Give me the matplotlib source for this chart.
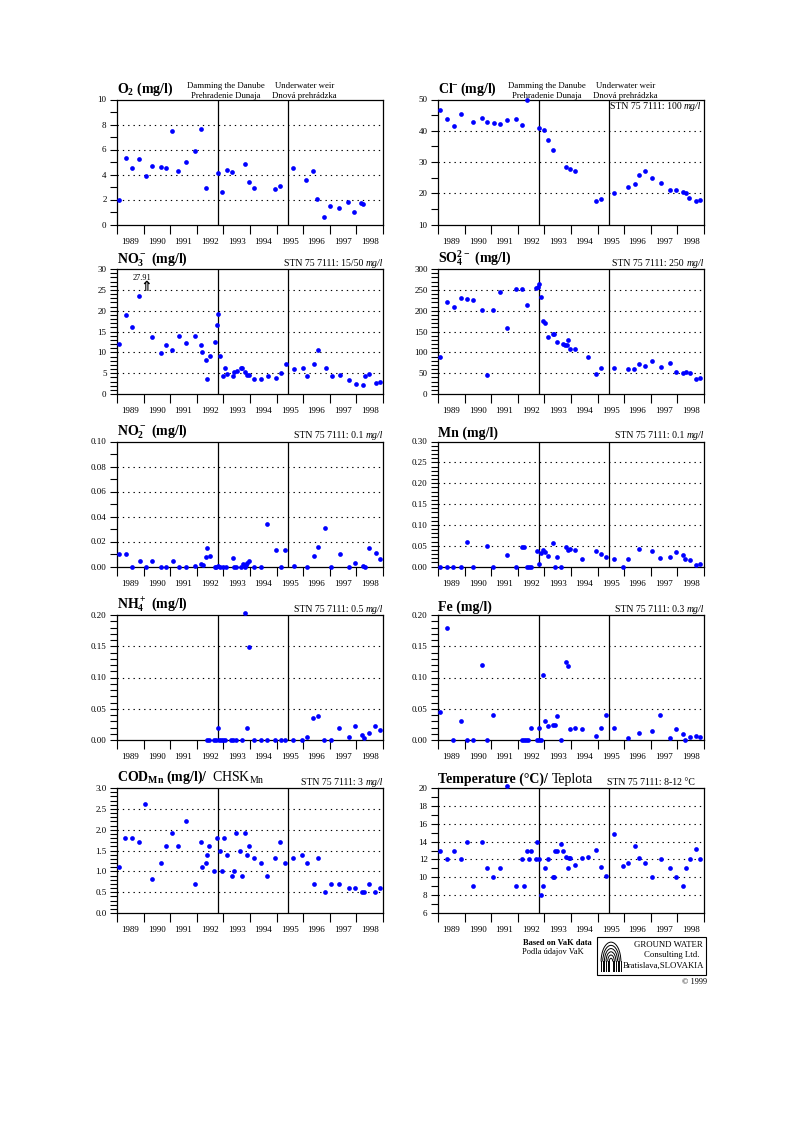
import matplotlib
matplotlib.use('Agg')
import matplotlib.pyplot as plt
import matplotlib.transforms as mtrans
import numpy as np
from matplotlib.ticker import MultipleLocator, FormatStrFormatter
from matplotlib.patches import Rectangle, Arc

plt.rcParams['font.family'] = ['Liberation Serif', 'DejaVu Serif']
plt.rcParams['mathtext.default'] = 'regular'

# ---------------- data ----------------
YEAR_LABELS = [str(y) for y in range(1989, 1999)]
DAMMING = 1992.8
WEIR = 1995.43

O2_X = [1989.08,1989.33,1989.58,1989.84,1990.08,1990.32,1990.65,1990.83,1991.06,1991.31,1991.59,1991.93,1992.15,1992.33,1992.78,1992.95,1993.12,1993.32,1993.81,1993.95,1994.14,1994.94,1995.13,1995.62,1996.10,1996.35,1996.50,1996.77,1997.02,1997.35,1997.70,1997.92,1998.17,1998.26]
O2_Y = [2.0,5.33,4.53,5.25,3.9,4.67,4.59,4.53,7.52,4.29,5.01,5.89,7.63,2.93,4.13,2.61,4.35,4.21,4.83,3.41,2.93,2.83,3.09,4.53,3.55,4.32,2.08,0.61,1.49,1.36,1.79,0.99,1.71,1.65]

CL_X = [1989.08,1989.34,1989.59,1989.85,1990.31,1990.66,1990.85,1991.09,1991.32,1991.60,1991.95,1992.17,1992.33,1992.79,1992.97,1993.13,1993.33,1993.82,1993.97,1994.15,1994.94,1995.14,1995.63,1996.14,1996.39,1996.54,1996.80,1997.05,1997.37,1997.72,1997.94,1998.21,1998.31,1998.45,1998.70,1998.85]
CL_Y = [46.5,43.8,41.6,45.5,42.7,44.0,42.9,42.5,42.2,43.5,43.8,42.0,50.0,40.9,40.3,37.1,33.7,28.5,27.7,27.2,17.6,18.2,20.0,21.9,23.0,26.0,27.2,24.8,23.2,21.1,21.1,20.5,20.0,18.4,17.6,17.9]

NO3_X = [1989.08,1989.33,1989.58,1989.84,1990.32,1990.66,1990.84,1991.07,1991.32,1991.61,1991.95,1992.16,1992.21,1992.35,1992.40,1992.48,1992.68,1992.75,1992.80,1992.88,1992.97,1993.06,1993.13,1993.35,1993.40,1993.50,1993.65,1993.71,1993.82,1993.90,1993.97,1994.16,1994.43,1994.66,1994.97,1995.16,1995.35,1995.65,1995.98,1996.16,1996.42,1996.56,1996.84,1997.08,1997.38,1997.73,1997.97,1998.23,1998.31,1998.47,1998.72,1998.89]
NO3_Y = [12.0,18.9,16.0,23.5,13.7,9.8,11.7,10.6,14.0,12.3,14.0,11.7,10.0,8.2,3.65,9.1,12.5,16.5,19.1,9.1,4.4,6.3,4.9,4.4,5.3,5.5,6.3,6.3,5.2,4.6,4.6,3.6,3.7,4.4,3.9,5.1,7.2,6.0,6.3,4.4,7.3,10.5,6.3,4.3,4.6,3.4,2.4,2.2,4.4,4.8,2.6,2.8]
NO3_OUTLIER = 27.91
NO3_OUTLIER_X = 1990.0

SO4_X = [1989.08,1989.34,1989.59,1989.85,1990.08,1990.32,1990.66,1990.85,1991.07,1991.34,1991.60,1991.95,1992.17,1992.34,1992.68,1992.76,1992.81,1992.88,1992.96,1993.03,1993.15,1993.31,1993.35,1993.49,1993.71,1993.79,1993.84,1993.90,1993.97,1994.15,1994.65,1994.94,1995.14,1995.63,1996.14,1996.37,1996.54,1996.80,1997.05,1997.37,1997.72,1997.94,1998.21,1998.31,1998.47,1998.70,1998.85]
SO4_Y = [89,222,208,230,229,225,201,46,201,245,158,253,253,213,255,257,263,233,175,170,138,143,144,125,120,117,117,130,108,108,89,48,63,63,61,61,72,67,79,64,75,52,50,53,51,37,39]

NO2_X = [1989.09,1989.35,1989.58,1989.85,1990.08,1990.33,1990.66,1990.83,1991.09,1991.32,1991.61,1991.95,1992.15,1992.23,1992.34,1992.40,1992.48,1992.68,1992.74,1992.81,1992.89,1993.00,1993.10,1993.35,1993.40,1993.47,1993.65,1993.72,1993.80,1993.84,1993.90,1993.97,1994.16,1994.41,1994.65,1994.97,1995.16,1995.32,1995.65,1996.15,1996.40,1996.55,1996.83,1997.05,1997.38,1997.72,1997.96,1998.23,1998.31,1998.48,1998.72,1998.87]
NO2_Y = [0.0099,0.0099,0,0.0048,0,0.0048,0,0,0.0048,0,0,0.0008,0.002,0.0013,0.008,0.015,0.0088,0,0,0.0005,0,0,0,0.0069,0,0,0,0.002,0,0.0016,0.003,0.0048,0,0,0.034,0.013,0,0.013,0.0005,0,0.0088,0.0157,0.031,0,0.0099,0,0.0032,0.0008,0,0.015,0.011,0.0059]

MN_X = [1989.08,1989.33,1989.58,1989.85,1990.08,1990.32,1990.83,1991.07,1991.59,1991.95,1992.15,1992.22,1992.33,1992.42,1992.48,1992.74,1992.81,1992.88,1992.96,1993.03,1993.13,1993.33,1993.38,1993.48,1993.64,1993.81,1993.87,1993.95,1994.15,1994.41,1994.94,1995.14,1995.32,1995.63,1995.95,1996.14,1996.54,1997.05,1997.35,1997.72,1997.94,1998.21,1998.28,1998.47,1998.71,1998.85]
MN_Y = [0,0,0,0,0.059,0,0.05,0,0.028,0,0.047,0.047,0,0,0,0.038,0.006,0.033,0.04,0.035,0.025,0.057,0,0.023,0,0.047,0.04,0.042,0.04,0.018,0.038,0.031,0.023,0.018,0,0.018,0.042,0.038,0.021,0.023,0.034,0.028,0.018,0.016,0.004,0.006]

NH4_X = [1992.40,1992.46,1992.65,1992.72,1992.78,1992.84,1992.92,1993.00,1993.07,1993.29,1993.36,1993.48,1993.71,1993.81,1993.89,1993.96,1994.14,1994.42,1994.64,1994.94,1995.15,1995.31,1995.62,1995.96,1996.13,1996.38,1996.54,1996.80,1997.04,1997.36,1997.72,1997.94,1998.21,1998.29,1998.46,1998.71,1998.87]
NH4_Y = [0,0,0,0,0.020,0,0,0,0,0,0,0,0,0.203,0.0186,0.149,0,0,0,0,0,0,0,0,0.005,0.035,0.039,0,0,0.0186,0.005,0.023,0.0074,0.003,0.012,0.022,0.0165]

FE_X = [1989.08,1989.34,1989.58,1989.85,1990.08,1990.32,1990.65,1990.85,1991.07,1992.14,1992.22,1992.32,1992.39,1992.48,1992.73,1992.79,1992.81,1992.88,1992.96,1993.03,1993.13,1993.31,1993.38,1993.48,1993.64,1993.81,1993.89,1993.96,1994.15,1994.41,1994.94,1995.14,1995.32,1995.63,1996.14,1996.54,1997.05,1997.35,1997.72,1997.94,1998.21,1998.28,1998.46,1998.70,1998.85]
FE_Y = [0.045,0.18,0,0.03,0,0,0.12,0,0.04,0,0,0,0,0.02,0,0.019,0,0,0.1035,0.030,0.022,0.024,0.024,0.038,0,0.125,0.118,0.017,0.02,0.017,0.007,0.02,0.04,0.019,0.003,0.011,0.0144,0.04,0.003,0.017,0.009,0,0.005,0.0064,0.0043]

COD_X = [1989.06,1989.31,1989.57,1989.83,1990.07,1990.31,1990.64,1990.83,1991.05,1991.30,1991.59,1991.93,1992.15,1992.19,1992.34,1992.39,1992.46,1992.66,1992.75,1992.87,1992.95,1993.04,1993.13,1993.33,1993.38,1993.48,1993.63,1993.70,1993.81,1993.89,1993.96,1994.15,1994.42,1994.64,1994.94,1995.13,1995.32,1995.62,1995.96,1996.14,1996.39,1996.54,1996.81,1997.06,1997.36,1997.72,1997.94,1998.21,1998.29,1998.46,1998.71,1998.87]
COD_Y = [1.10,1.8,1.8,1.71,2.61,0.81,1.21,1.6,1.91,1.6,2.2,0.70,1.70,1.10,1.21,1.40,1.6,1.0,1.8,1.5,1.0,1.8,1.4,0.9,1.0,1.91,1.5,0.9,1.91,1.4,1.6,1.31,1.21,0.9,1.31,1.70,1.21,1.31,1.4,1.21,0.7,1.31,0.5,0.7,0.7,0.61,0.61,0.5,0.5,0.7,0.5,0.61]

T_X = [1989.08,1989.34,1989.59,1989.85,1990.08,1990.32,1990.66,1990.85,1991.07,1991.34,1991.60,1991.95,1992.15,1992.22,1992.33,1992.42,1992.48,1992.67,1992.74,1992.81,1992.88,1992.96,1993.03,1993.13,1993.31,1993.35,1993.41,1993.48,1993.64,1993.71,1993.82,1993.89,1993.92,1993.97,1994.15,1994.41,1994.65,1994.94,1995.14,1995.32,1995.63,1995.96,1996.14,1996.39,1996.54,1996.80,1997.05,1997.37,1997.72,1997.94,1998.21,1998.31,1998.46,1998.70,1998.85]
T_Y = [13.0,12.0,13.0,12.0,14.0,9.0,14.0,11.0,10.0,11.0,20.2,9.0,12.0,9.0,13.0,12.0,13.0,12.0,14.0,12.0,8.0,9.0,11.0,12.0,10.0,10.0,13.0,13.0,13.7,12.9,12.3,11.0,12.2,12.2,11.4,12.2,12.3,13.1,11.2,10.2,14.9,11.3,11.6,13.5,12.2,11.6,10.0,12.0,11.0,10.0,9.0,11.0,12.0,13.2,12.0]

# ---------------- layout ----------------
W, H = 793, 1123
fig = plt.figure(figsize=(W / 100, H / 100), dpi=100)
fig.patch.set_facecolor('white')

COL_X = [117, 438]
ROW_TOP = [99.5, 269, 441.5, 615, 788]
AX_W, AX_H = 266, 125
TITLE_FS = 10


def make_ax(col, row):
    x0 = COL_X[col]
    top = ROW_TOP[row]
    return fig.add_axes([x0 / W, 1 - (top + AX_H) / H, AX_W / W, AX_H / H])


def setup(ax, xs, ys, ylim, major, minor, fmt):
    ax.set_xlim(1989, 1999)
    ax.set_ylim(*ylim)
    ax.set_xticks(list(range(1989, 2000)))
    ax.set_xticklabels([])
    ax.set_xticks(np.arange(1989.5, 1999.0, 1.0), minor=True)
    ax.set_xticklabels(YEAR_LABELS, minor=True)
    ax.tick_params(axis='x', which='major', direction='out', length=6.5, width=0.8)
    ax.tick_params(axis='x', which='minor', length=0, pad=9.5, labelsize=6.5)
    ax.yaxis.set_major_locator(MultipleLocator(major))
    ax.yaxis.set_minor_locator(MultipleLocator(minor))
    ax.yaxis.set_major_formatter(FormatStrFormatter(fmt))
    ax.tick_params(axis='y', which='both', direction='out', length=5, width=0.8,
                   labelsize=6.5, pad=2.5)
    n = int(round((ylim[1] - ylim[0]) / major))
    for i in range(1, n):
        ax.axhline(ylim[0] + i * major, color='black', lw=0.8, ls=(0, (1.2, 3.6)), zorder=1)
    ax.axvline(DAMMING, color='black', lw=0.9, zorder=2)
    ax.axvline(WEIR, color='black', lw=0.9, zorder=2)
    ax.plot(xs, ys, 'o', ms=3.4, color='#0000ff', mec='none', clip_on=False, zorder=5)
    for s in ax.spines.values():
        s.set_linewidth(0.9)


def title(ax, bold_text, regular_text=None):
    t = ax.text(0.0, 1.012, bold_text, transform=ax.transAxes, ha='left', va='bottom',
                fontsize=TITLE_FS, fontweight='bold')
    if regular_text:
        ax.annotate(regular_text, xy=(1, 0), xycoords=t, xytext=(3, 0),
                    textcoords='offset points', ha='left', va='bottom', fontsize=TITLE_FS)


def stn(ax, prefix, unit='mg/l', y=1.008, va='bottom', x=1.0):
    t2 = ax.text(x, y, unit, transform=ax.transAxes, ha='right', va=va,
                 fontsize=7, style='italic')
    ax.annotate(prefix, xy=(0, 0), xycoords=t2, ha='right', va='bottom', fontsize=7)


def header(ax):
    tr = mtrans.blended_transform_factory(ax.transData, ax.transAxes)
    ax.text(1993.1, 1.108, 'Damming the Danube', transform=tr, ha='center', va='center', fontsize=6.3)
    ax.text(1993.1, 1.03, 'Prehradenie Dunaja', transform=tr, ha='center', va='center', fontsize=6.3)
    ax.text(1996.05, 1.108, 'Underwater weir', transform=tr, ha='center', va='center', fontsize=6.3)
    ax.text(1996.05, 1.03, 'Dnová prehrádzka', transform=tr, ha='center', va='center', fontsize=6.3)


# O2
ax = make_ax(0, 0)
setup(ax, O2_X, O2_Y, (0, 10), 2, 1, '%d')
title(ax, r'O$_2$ (mg/l)')
header(ax)

# Cl
ax = make_ax(1, 0)
setup(ax, CL_X, CL_Y, (10, 50), 10, 5, '%d')
title(ax, r'Cl$^{-}\,$(mg/l)')
header(ax)
stn(ax, 'STN 75 7111: 100 ', y=0.942, va='center', x=0.99)

# NO3
ax = make_ax(0, 1)
setup(ax, NO3_X, NO3_Y, (0, 30), 5, 1, '%d')
title(ax, r'NO$_3^-$ (mg/l)')
stn(ax, 'STN 75 7111: 15/50 ')
ax.text(NO3_OUTLIER_X - 0.07, 27.9, f'{NO3_OUTLIER:.2f}', ha='center', va='center', fontsize=6)
ax.text(NO3_OUTLIER_X + 0.09, 25.7, '⇑', ha='center', va='center', fontsize=10,
        fontweight='bold', family='DejaVu Sans')

# SO4
ax = make_ax(1, 1)
setup(ax, SO4_X, SO4_Y, (0, 300), 50, 10, '%d')
title(ax, r'SO$_4^{2-}$ (mg/l)')
stn(ax, 'STN 75 7111: 250 ')

# NO2
ax = make_ax(0, 2)
setup(ax, NO2_X, NO2_Y, (0, 0.10), 0.02, 0.01, '%.2f')
title(ax, r'NO$_2^-$ (mg/l)')
stn(ax, 'STN 75 7111: 0.1 ')

# Mn
ax = make_ax(1, 2)
setup(ax, MN_X, MN_Y, (0, 0.30), 0.05, 0.01, '%.2f')
title(ax, 'Mn (mg/l)')
stn(ax, 'STN 75 7111: 0.1 ')

# NH4
ax = make_ax(0, 3)
setup(ax, NH4_X, NH4_Y, (0, 0.20), 0.05, 0.01, '%.2f')
title(ax, r'NH$_4^+$ (mg/l)')
stn(ax, 'STN 75 7111: 0.5 ')

# Fe
ax = make_ax(1, 3)
setup(ax, FE_X, FE_Y, (0, 0.20), 0.05, 0.01, '%.2f')
title(ax, 'Fe (mg/l)')
stn(ax, 'STN 75 7111: 0.3 ')

# COD
ax = make_ax(0, 4)
setup(ax, COD_X, COD_Y, (0, 3.0), 0.5, 0.1, '%.1f')
title(ax, r'COD$_{Mn}$ (mg/l)/', r'CHSK$_{Mn}$')
stn(ax, 'STN 75 7111: 3 ')

# Temperature
ax = make_ax(1, 4)
setup(ax, T_X, T_Y, (6, 20), 2, 1, '%d')
title(ax, 'Temperature (°C)/', 'Teplota')
ax.text(0.635, 1.008, 'STN 75 7111: 8-12 °C', transform=ax.transAxes, ha='left',
        va='bottom', fontsize=7)

# ---------------- footer ----------------
def fx(x):
    return x / W


def fy(y):
    return 1 - y / H


fig.text(fx(557), fy(943), 'Based on VaK data', ha='center', va='center', fontsize=6,
         fontweight='bold')
fig.text(fx(553), fy(952), 'Podla údajov VaK', ha='center', va='center', fontsize=6)
fig.patches.append(Rectangle((fx(597), fy(975)), fx(706) - fx(597), fy(937) - fy(975),
                             transform=fig.transFigure, fill=False, lw=0.8, ec='black'))
fig.text(fx(668), fy(945), 'GROUND WATER', ha='center', va='center', fontsize=6.3)
fig.text(fx(672), fy(955), 'Consulting Ltd.', ha='center', va='center', fontsize=6.3)
fig.text(fx(704), fy(966), 'Bratislava,SLOVAKIA', ha='right', va='center', fontsize=6.3)
fig.text(fx(707), fy(982), '© 1999', ha='right', va='center', fontsize=6)

lax = fig.add_axes([fx(600), fy(973), (622 - 600) / W, (973 - 940) / H])
lax.set_xlim(0, 1)
lax.set_ylim(0, 1)
lax.axis('off')
for i, w in enumerate([0.15, 0.3, 0.45, 0.6, 0.75, 0.9]):
    lax.add_patch(Arc((0.5, 0.35), w, w * 1.3, theta1=0, theta2=180, lw=0.7, color='black'))
    lax.plot([0.5 - w / 2, 0.5 - w / 2], [0.05, 0.35], color='black', lw=0.7)
    lax.plot([0.5 + w / 2, 0.5 + w / 2], [0.05, 0.35], color='black', lw=0.7)

fig.savefig('out.png', dpi=100, facecolor='white')
